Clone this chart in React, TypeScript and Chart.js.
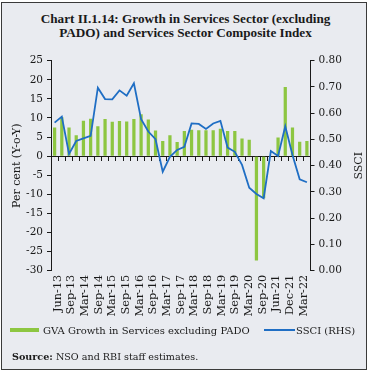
import React, { useEffect, useRef } from "react";
import { Chart, registerables } from "chart.js";

Chart.register(...registerables);

const categories = [
  "Jun-13","Sep-13","Dec-13","Mar-14","Jun-14","Sep-14","Dec-14","Mar-15","Jun-15","Sep-15","Dec-15","Mar-16",
  "Jun-16","Sep-16","Dec-16","Mar-17","Jun-17","Sep-17","Dec-17","Mar-18","Jun-18","Sep-18","Dec-18","Mar-19",
  "Jun-19","Sep-19","Dec-19","Mar-20","Jun-20","Sep-20","Dec-20","Mar-21","Jun-21","Sep-21","Dec-21","Mar-22",
];

const gvaGrowth = [
  7.5, 10.2, 7.5, 5.5, 9.3, 9.8, 7.8, 9.7, 9.0, 9.2,
  9.1, 9.7, 11.0, 9.6, 6.7, 4.0, 5.5, 3.7, 6.6, 6.9,
  6.8, 6.8, 6.8, 7.2, 6.6, 6.6, 4.6, 4.3, -27.3, -11.0,
  0.0, 4.9, 18.1, 7.5, 3.8, 4.0,
];

const ssci = [
  0.564, 0.587, 0.445, 0.494, 0.504, 0.514, 0.697, 0.654, 0.653, 0.687,
  0.667, 0.714, 0.577, 0.530, 0.501, 0.377, 0.434, 0.460, 0.472, 0.561,
  0.559, 0.540, 0.561, 0.571, 0.469, 0.453, 0.403, 0.316, 0.292, 0.276,
  0.456, 0.437, 0.550, 0.441, 0.348, 0.337,
];

const tickLabels = [
  "Jun-13","Sep-13","Mar-14","Sep-14","Mar-15","Sep-15","Mar-16","Sep-16","Mar-17","Sep-17",
  "Mar-18","Sep-18","Mar-19","Sep-19","Mar-20","Sep-20","Jun-21","Dec-21","Mar-22",
];

const GREEN = "#8dc641";
const BLUE = "#1f6ec4";
const INK = "#1a1a1a";
const FONT = "'DejaVu Serif', serif";

const rightTitlePlugin = {
  id: "rightTitle",
  afterDraw(chart: any) {
    const { ctx, chartArea } = chart;
    ctx.save();
    ctx.font = `11px ${FONT}`;
    ctx.fillStyle = INK;
    ctx.textAlign = "center";
    ctx.textBaseline = "middle";
    ctx.translate(359, (chartArea.top + chartArea.bottom) / 2);
    ctx.rotate(-Math.PI / 2);
    ctx.fillText("SSCI", 0, 0);
    ctx.restore();
  },
};

export default function App() {
  const ref = useRef<HTMLCanvasElement>(null);

  useEffect(() => {
    document.body.style.margin = "0";
    const canvas = ref.current;
    if (!canvas) return;
    Chart.defaults.font.family = FONT;
    Chart.defaults.color = INK;
    const chart = new Chart(canvas, {
      type: "bar",
      data: {
        labels: categories,
        datasets: [
          {
            type: "line",
            label: "SSCI (RHS)",
            data: ssci,
            yAxisID: "y1",
            borderColor: BLUE,
            borderWidth: 1.8,
            pointRadius: 0,
            tension: 0,
            order: 0,
          } as any,
          {
            type: "bar",
            label: "GVA Growth in Services excluding PADO",
            data: gvaGrowth,
            yAxisID: "y",
            backgroundColor: GREEN,
            barPercentage: 0.5,
            categoryPercentage: 0.9,
            order: 1,
          },
        ],
      },
      options: {
        responsive: false,
        animation: false,
        layout: { padding: { top: 60.7, left: 0, right: 0, bottom: 0 } },
        plugins: { legend: { display: false }, tooltip: { enabled: false } },
        scales: {
          x: {
            type: "category",
            position: { y: 0 } as any,
            offset: true,
            ticks: { display: false },
            grid: {
              offset: true,
              drawOnChartArea: false,
              drawTicks: true,
              tickLength: 4,
              color: INK,
              lineWidth: 1,
            },
            border: { display: true, color: INK, width: 1 },
          },
          x2: {
            type: "category",
            position: "bottom",
            labels: tickLabels,
            offset: true,
            grid: { display: false, drawTicks: false },
            border: { display: false },
            ticks: {
              autoSkip: false,
              maxRotation: 90,
              minRotation: 90,
              padding: 4,
              font: { size: 11.3, family: FONT },
              color: INK,
            },
            afterFit: (s: any) => {
              s.height = 372 - 270.7;
            },
          } as any,
          y: {
            position: "left",
            min: -30,
            max: 25,
            ticks: { stepSize: 5, padding: 4, font: { size: 10.5, family: FONT }, color: INK },
            grid: { drawOnChartArea: false, drawTicks: true, tickLength: 4, color: INK },
            border: { display: true, color: INK, width: 1 },
            title: {
              display: true,
              text: "Per cent (Y-o-Y)",
              font: { size: 11, family: FONT },
              color: INK,
              padding: { top: 11, bottom: 0 },
            },
            afterFit: (s: any) => {
              s.width = 51;
            },
          } as any,
          y1: {
            position: "right",
            min: 0,
            max: 0.8,
            ticks: {
              stepSize: 0.1,
              padding: 4,
              font: { size: 10.5, family: FONT },
              color: INK,
              callback: (v: any) => Number(v).toFixed(2),
            },
            grid: { drawOnChartArea: false, drawTicks: true, tickLength: 4, color: INK },
            border: { display: true, color: INK, width: 1 },
            afterFit: (s: any) => {
              s.width = 371 - 310.5;
            },
          } as any,
        },
      },
      plugins: [rightTitlePlugin],
    });
    return () => chart.destroy();
  }, []);

  return (
    <div style={{ position: "absolute", left: 0, top: 0, width: 371, height: 372, background: "#ffffff" }}>
      <div
        style={{
          position: "absolute",
          left: 1,
          top: 2,
          width: 364,
          height: 366,
          border: "1.5px solid #3a3a3a",
          background: "#e9ebf0",
        }}
      />
      <div
        style={{
          position: "absolute",
          left: 0,
          top: 12,
          width: 371,
          textAlign: "center",
          fontFamily: "'Liberation Serif', serif",
          fontWeight: "bold",
          fontSize: 13.2,
          lineHeight: "14px",
          color: INK,
        }}
      >
        Chart II.1.14: Growth in Services Sector (excluding
        <br />
        PADO) and Services Sector Composite Index
      </div>
      <canvas
        ref={ref}
        width={371}
        height={372}
        style={{ position: "absolute", left: 0, top: 0, width: 371, height: 372 }}
      />
      <div
        style={{
          position: "absolute",
          left: 10,
          top: 323,
          height: 14,
          display: "flex",
          alignItems: "center",
          fontFamily: FONT,
          fontSize: 10,
          color: INK,
          whiteSpace: "nowrap",
        }}
      >
        <span style={{ display: "inline-block", width: 29, height: 4.5, background: GREEN, marginRight: 4 }} />
        <span>GVA Growth in Services excluding PADO</span>
      </div>
      <div
        style={{
          position: "absolute",
          left: 264,
          top: 323,
          height: 14,
          display: "flex",
          alignItems: "center",
          fontFamily: FONT,
          fontSize: 10,
          color: INK,
          whiteSpace: "nowrap",
        }}
      >
        <span style={{ display: "inline-block", width: 31, height: 2, background: BLUE, marginRight: 1 }} />
        <span>SSCI (RHS)</span>
      </div>
      <div
        style={{
          position: "absolute",
          left: 12,
          top: 351,
          fontFamily: FONT,
          fontSize: 9.6,
          color: INK,
          whiteSpace: "nowrap",
        }}
      >
        <b>Source:</b> NSO and RBI staff estimates.
      </div>
    </div>
  );
}
